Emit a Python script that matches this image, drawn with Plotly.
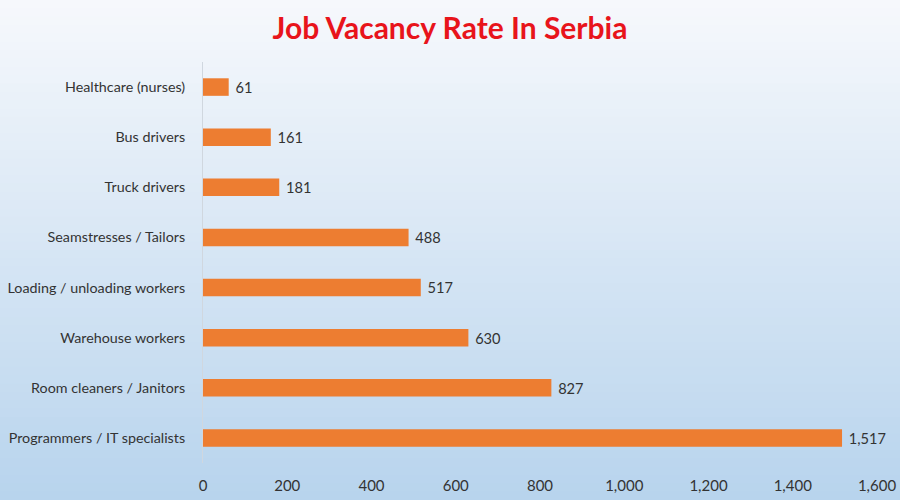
import plotly.graph_objects as go

categories = ["Programmers / IT specialists", "Room cleaners / Janitors", "Warehouse workers",
              "Loading / unloading workers", "Seamstresses / Tailors", "Truck drivers",
              "Bus drivers", "Healthcare (nurses)"]
values = [1517, 827, 630, 517, 488, 181, 161, 61]
x_ticks = [0, 200, 400, 600, 800, 1000, 1200, 1400, 1600]
x_tick_labels = ["0", "200", "400", "600", "800", "1,000", "1,200", "1,400", "1,600"]

FONT = "Lato, Carlito, Calibri, sans-serif"

fig = go.Figure(go.Bar(
    x=values, y=categories, orientation="h",
    marker=dict(color="#ED7D31", line=dict(width=0)),
    text=values, texttemplate=" %{x:,}", textposition="outside",
    textfont=dict(family=FONT, size=15, color="#333333"),
    cliponaxis=False,
))

# vertical background gradient (white -> light blue) covering the whole figure
H = 500.0
t_m, b_m = 62, 37
ph = H - t_m - b_m
n = 60
top = (246, 248, 252)
bot = (184, 212, 237)
shapes = []
for i in range(n):
    tt = i / (n - 1)
    c = tuple(round(top[k] + (bot[k] - top[k]) * tt) for k in range(3))
    ytop_px = i * H / n
    ybot_px = (i + 1) * H / n + 1
    y1 = (H - b_m - ytop_px) / ph
    y0 = (H - b_m - ybot_px) / ph
    shapes.append(dict(type="rect", xref="paper", yref="paper",
                       x0=-0.4, x1=1.1, y0=y0, y1=y1,
                       fillcolor="rgb(%d,%d,%d)" % c, line=dict(width=0), layer="below"))

fig.update_layout(
    width=900, height=500,
    margin=dict(l=203, r=23, t=t_m, b=b_m, autoexpand=False),
    paper_bgcolor="rgb(230,238,247)", plot_bgcolor="rgba(0,0,0,0)",
    shapes=shapes,
    title=dict(text="<b>Job Vacancy Rate In Serbia</b>", x=0.5, xanchor="center",
               y=0.944, yanchor="middle",
               font=dict(family=FONT, size=30, color="#E8141B")),
    bargap=0.65,
    showlegend=False,
    font=dict(family=FONT, size=15, color="#333333"),
)
fig.update_xaxes(range=[0, 1600], tickvals=x_ticks, ticktext=x_tick_labels,
                 showgrid=False, zeroline=False, showline=False, automargin=False,
                 ticks="", ticklabelstandoff=12,
                 tickfont=dict(family=FONT, size=15, color="#333333"))
fig.update_yaxes(showgrid=False, zeroline=False, showline=True, linecolor="#D0D7DF",
                 linewidth=1, ticks="", ticklabelstandoff=14, automargin=False,
                 tickfont=dict(family=FONT, size=14.3, color="#333333"))

fig.write_html("out.html", config={"displayModeBar": False},
               post_script="document.body.style.margin='0';document.body.style.overflow='hidden';")
